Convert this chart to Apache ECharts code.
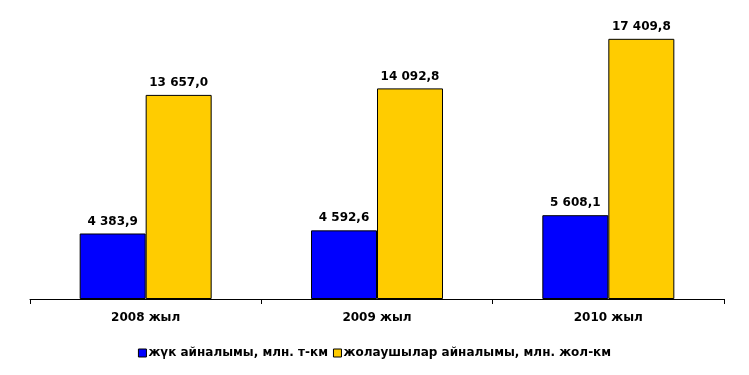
<!DOCTYPE html>
<html><head><meta charset="utf-8">
<script src="https://cdn.jsdelivr.net/npm/echarts@6/dist/echarts.min.js"></script>
<style>html,body{margin:0;padding:0;background:#fff}#c{width:749px;height:375px}</style>
</head><body><div id="c"></div>
<script>
var categories = ['2008 жыл', '2009 жыл', '2010 жыл'];
var seriesNames = ['жүк айналымы, млн. т-км', 'жолаушылар айналымы, млн. жол-км'];
var freight = [4383.9, 4592.6, 5608.1];
var passengers = [13657.0, 14092.8, 17409.8];

function fmt(v) {
  var s = v.toFixed(1).split('.');
  var i = s[0].replace(/\B(?=(\d{3})+(?!\d))/g, ' ');
  return i + ',' + s[1];
}
var font = 'DejaVu Sans';
var chart = echarts.init(document.getElementById('c'));
chart.setOption({
  animation: false,
  textStyle: {fontFamily: font},
  grid: {left: 30, right: 25, top: 30, bottom: 76},
  legend: {
    bottom: 11, left: 'center', itemWidth: 8, itemHeight: 8, itemGap: 5,
    icon: 'rect',
    itemStyle: {borderColor: '#000', borderWidth: 1},
    textStyle: {fontFamily: font, fontSize: 12, fontWeight: 'bold', color: '#000', padding: [0, 0, 0, -3]},
    data: seriesNames
  },
  xAxis: {
    type: 'category', data: categories,
    axisLine: {lineStyle: {color: '#000', width: 1}},
    axisTick: {show: true, length: 5, lineStyle: {color: '#000'}},
    axisLabel: {color: '#000', fontSize: 12, fontWeight: 'bold', fontFamily: font, margin: 13}
  },
  yAxis: {type: 'value', min: 0, max: 18000, show: false, splitLine: {show: false}},
  series: [
    {name: seriesNames[0], type: 'bar', data: freight, barWidth: 66, barGap: '0%',
     itemStyle: {color: '#0000FF', borderColor: '#000', borderWidth: 1},
     label: {show: true, position: 'top', distance: 6, color: '#000', fontSize: 12, fontWeight: 'bold', fontFamily: font,
             formatter: function (p) { return fmt(p.value); }}},
    {name: seriesNames[1], type: 'bar', data: passengers, barWidth: 66,
     itemStyle: {color: '#FFCC00', borderColor: '#000', borderWidth: 1},
     label: {show: true, position: 'top', distance: 6, color: '#000', fontSize: 12, fontWeight: 'bold', fontFamily: font,
             formatter: function (p) { return fmt(p.value); }}}
  ]
});
</script></body></html>
